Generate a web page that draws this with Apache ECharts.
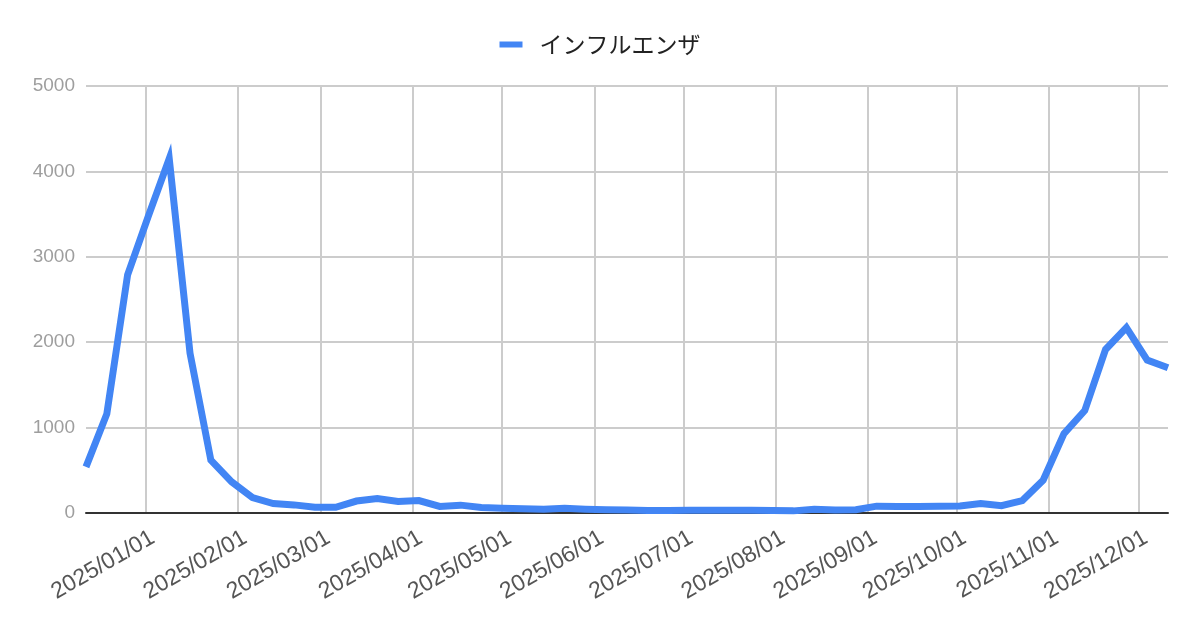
<!DOCTYPE html>
<html>
<head>
<meta charset="utf-8">
<title>インフルエンザ</title>
<script src="https://cdn.jsdelivr.net/npm/echarts@6/dist/echarts.min.js"></script>
<style>
  html, body { margin: 0; padding: 0; background: #fff; }
  #chart { width: 1200px; height: 626px; }
</style>
</head>
<body>
<div id="chart"></div>
<script>
// 週ごとの報告日
var weeks = [
    '2024-12-12', '2024-12-19', '2024-12-26', '2025-01-02', '2025-01-09',
    '2025-01-16', '2025-01-23', '2025-01-30', '2025-02-06', '2025-02-13',
    '2025-02-20', '2025-02-27', '2025-03-06', '2025-03-13', '2025-03-20',
    '2025-03-27', '2025-04-03', '2025-04-10', '2025-04-17', '2025-04-24',
    '2025-05-01', '2025-05-08', '2025-05-15', '2025-05-22', '2025-05-29',
    '2025-06-05', '2025-06-12', '2025-06-19', '2025-06-26', '2025-07-03',
    '2025-07-10', '2025-07-17', '2025-07-24', '2025-07-31', '2025-08-07',
    '2025-08-14', '2025-08-21', '2025-08-28', '2025-09-04', '2025-09-11',
    '2025-09-18', '2025-09-25', '2025-10-02', '2025-10-09', '2025-10-16',
    '2025-10-23', '2025-10-30', '2025-11-06', '2025-11-13', '2025-11-20',
    '2025-11-27', '2025-12-04', '2025-12-11'
];

// インフルエンザ 報告数
var flu = [
    540, 1160, 2790, 3480, 4150,
    1870, 620, 365, 180, 110,
    95, 68, 66, 140, 169,
    135, 145, 77, 92, 65,
    55, 50, 45, 55, 45,
    38, 35, 30, 30, 32,
    32, 32, 32, 30, 25,
    45, 35, 38, 80, 75,
    75, 80, 82, 110, 85,
    145, 385, 930, 1200, 1915,
    2170, 1790, 1700
];

var yTicks = [0, 1000, 2000, 3000, 4000, 5000];

var seriesName = 'インフルエンザ';

function buildData() {
    var data = [];
    for (var i = 0; i < weeks.length; i++) {
        data.push([weeks[i], flu[i]]);
    }
    return data;
}

var dom = document.getElementById('chart');
var myChart = echarts.init(dom, null, { renderer: 'canvas' });
var DAY = 24 * 3600 * 1000;

var option = {
    animation: false,
    color: ['#4285f4'],
    legend: {
        top: 28,
        left: 'center',
        icon: 'rect',
        itemWidth: 23,
        itemHeight: 6,
        data: [seriesName],
        textStyle: {
            fontFamily: '"Noto Sans CJK JP", sans-serif',
            fontSize: 23,
            color: '#222',
            padding: [0, 0, 0, 12]
        }
    },
    grid: {
        left: 86,
        right: 32,
        top: 86,
        bottom: 113
    },
    xAxis: {
        type: 'time',
        min: 'dataMin',
        max: 'dataMax',
        splitNumber: 12,
        minInterval: 28 * DAY,
        maxInterval: 31 * DAY,
        axisLine: { onZero: true, lineStyle: { color: '#333', width: 2 } },
        axisTick: { show: false },
        axisLabel: {
            rotate: 30,
            interval: 0,
            showMinLabel: false,
            showMaxLabel: false,
            hideOverlap: false,
            margin: 20,
            // 回転したラベルを少し右下へずらす
            padding: [13, -5, 0, 0],
            formatter: '{yyyy}/{MM}/{dd}',
            fontFamily: '"Liberation Sans", Arial, sans-serif',
            fontSize: 23,
            color: '#555'
        },
        splitLine: {
            show: true,
            showMinLine: false,
            showMaxLine: false,
            lineStyle: { color: '#cccccc', width: 2 }
        }
    },
    yAxis: {
        type: 'value',
        min: yTicks[0],
        max: yTicks[yTicks.length - 1],
        interval: 1000,
        axisLine: { show: false },
        axisTick: { show: false },
        axisLabel: {
            margin: 11,
            formatter: function (v) { return String(v); },
            fontFamily: '"Liberation Sans", Arial, sans-serif',
            fontSize: 19,
            color: '#9e9e9e'
        },
        splitLine: { lineStyle: { color: '#cccccc', width: 2 } }
    },
    series: [
        {
            name: seriesName,
            type: 'line',
            showSymbol: false,
            symbol: 'none',
            data: buildData(),
            lineStyle: { width: 7, color: '#4285f4', join: 'miter', miterLimit: 10 }
        }
    ]
};

myChart.setOption(option);
window.addEventListener('resize', myChart.resize);
</script>
</body>
</html>
